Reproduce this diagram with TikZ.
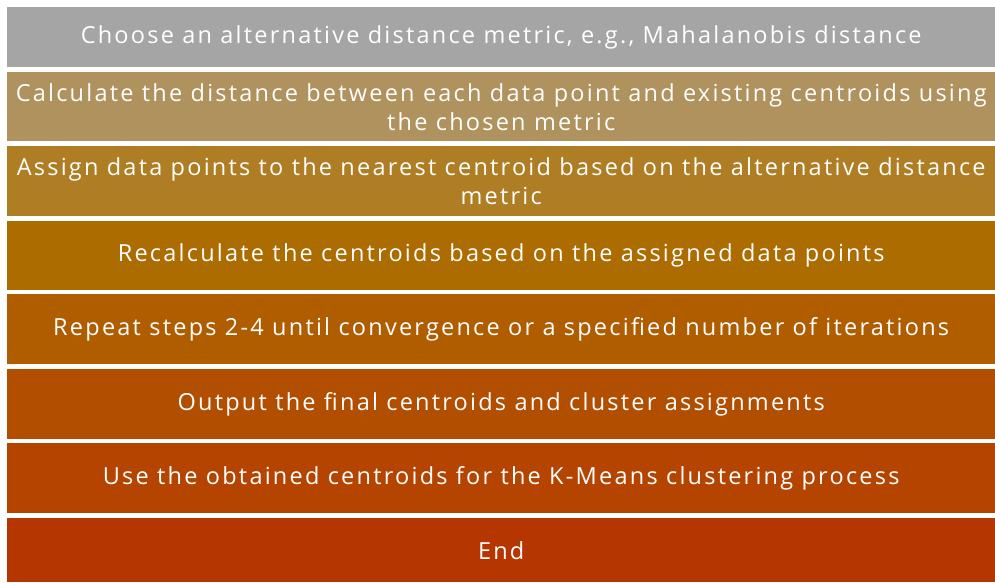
\documentclass[tikz,border=0pt]{standalone}
\usepackage{fontspec}
\setmainfont{Open Sans}[LetterSpace=9.5]
\definecolor{c1}{RGB}{165,165,165}
\definecolor{c2}{RGB}{175,146,94}
\definecolor{c3}{RGB}{175,125,35}
\definecolor{c4}{RGB}{172,108,0}
\definecolor{c5}{RGB}{176,93,0}
\definecolor{c6}{RGB}{178,78,0}
\definecolor{c7}{RGB}{180,68,0}
\definecolor{c8}{RGB}{181,54,0}
\tikzset{
  bar/.style={rectangle, draw=none, fill=#1, anchor=north west, inner sep=0pt,
    minimum width=988pt, text=white, align=center,
    font=\fontsize{23.5}{29}\selectfont}
}
\begin{document}
\begin{tikzpicture}[x=1pt,y=1pt]
\useasboundingbox (0,0) rectangle (995,-582);
\node[bar=c1, minimum height=60pt] (s1) at (7,-7) {Choose an alternative distance metric, e.g., Mahalanobis distance};
\node[bar=c2, minimum height=69pt] (s2) at (7,-72) {Calculate the distance between each data point and existing centroids using\\the chosen metric};
\node[bar=c3, minimum height=70pt] (s3) at (7,-146) {Assign data points to the nearest centroid based on the alternative distance\\metric};
\node[bar=c4, minimum height=69pt] (s4) at (7,-221) {Recalculate the centroids based on the assigned data points};
\node[bar=c5, minimum height=70pt] (s5) at (7,-294) {Repeat steps 2-4 until convergence or a specified number of iterations};
\node[bar=c6, minimum height=70pt] (s6) at (7,-369) {Output the final centroids and cluster assignments};
\node[bar=c7, minimum height=70pt] (s7) at (7,-443) {Use the obtained centroids for the K-Means clustering process};
\node[bar=c8, minimum height=64pt] (s8) at (7,-518) {End};
\end{tikzpicture}
\end{document}
